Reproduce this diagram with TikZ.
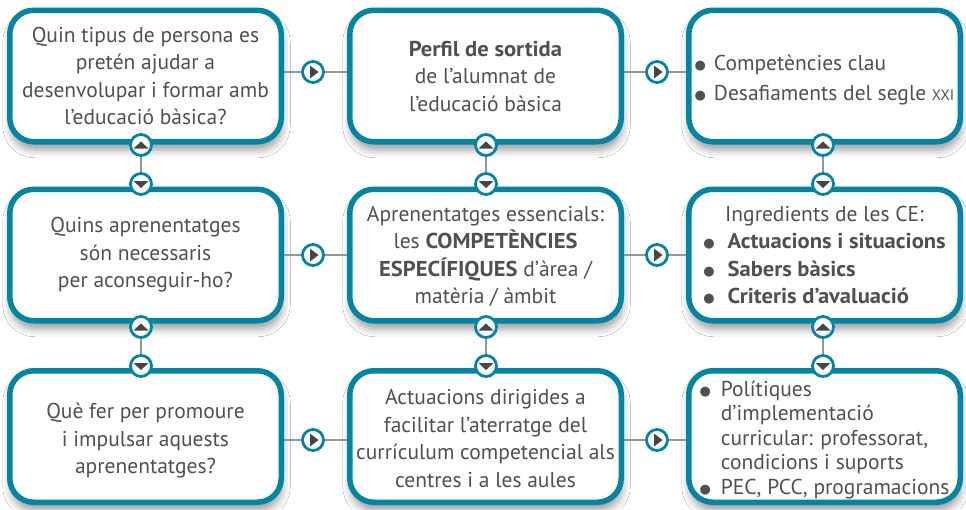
\documentclass[tikz,border=0pt]{standalone}
\usepackage{fontspec}
\setmainfont{PT Sans}[BoldFeatures={FakeStretch=1.05}]
\newfontfamily\dejavu{DejaVu Sans}
\usetikzlibrary{shadows.blur}
\definecolor{tealb}{RGB}{0,134,163}
\definecolor{txt}{RGB}{80,80,80}
\definecolor{tri}{RGB}{70,70,70}
\definecolor{lnk}{RGB}{150,150,150}
\newcommand{\bl}{\raisebox{1.2pt}{\dejavu\fontsize{13}{13}\selectfont ●}}
% shift content down by #1 while keeping the node centred on the shifted box
\newcommand{\sh}[2]{\raisebox{0pt}[\dimexpr\height+#1\relax][\dimexpr\depth-#1\relax]{#2}}
\newcommand{\dn}[2]{\sh{#1}{\begin{tabular}{@{}c@{}}#2\end{tabular}}}
\begin{document}
\begin{tikzpicture}[x=1pt,y=-1pt,
  box/.style={draw=tealb, line width=5.5pt, rounded corners=24pt, fill=white,
    minimum width=271.5pt, minimum height=131.5pt, inner sep=0pt, text=txt,
    font=\fontsize{21.5}{27.5}\selectfont, align=center,
    blur shadow={shadow xshift=1pt, shadow yshift=-8pt, shadow blur radius=8pt, shadow opacity=40}},
  rc/.style={circle, draw=tealb, line width=2.8pt, fill=white, minimum size=21pt, inner sep=0pt},
  rcright/.style={rc, path picture={\fill[tri]
    ([shift={(-3,-6.5)}]path picture bounding box.center) --
    ([shift={(-3,6.5)}]path picture bounding box.center) --
    ([shift={(5.5,0)}]path picture bounding box.center) -- cycle;}},
  rcup/.style={rc, path picture={\fill[tri]
    ([shift={(-7.5,3.5)}]path picture bounding box.center) --
    ([shift={(7.5,3.5)}]path picture bounding box.center) --
    ([shift={(0,-3.5)}]path picture bounding box.center) -- cycle;}},
  rcdown/.style={rc, path picture={\fill[tri]
    ([shift={(-7.5,-3)}]path picture bounding box.center) --
    ([shift={(7.5,-3)}]path picture bounding box.center) --
    ([shift={(0,4)}]path picture bounding box.center) -- cycle;}},
  link/.style={draw=lnk, line width=1.2pt}
]
\useasboundingbox (0,0) rectangle (966,509);
\fill[white] (0,0) rectangle (966,509);

% boxes
\node[box] (b11) at (145.5,76) {\dn{2pt}{Quin tipus de persona es\\pretén ajudar a\\desenvolupar i formar amb\\l’educació bàsica?}};
\node[box] (b12) at (485.5,76) {\textbf{Perfil de sortida}\\de l’alumnat de\\l’educació bàsica};
\node[box] (b13) at (824.5,76) {\sh{4pt}{\begin{tabular}{@{}l@{\hspace{8pt}}l@{}}\bl & Competències clau\\[2pt] \bl & Desafiaments del segle {\fontsize{15}{15}\selectfont XXI}\end{tabular}}};

\node[box] (b21) at (145.5,255) {Quins aprenentatges\\són necessaris\\per aconseguir-ho?};
\node[box] (b22) at (485.5,255) {\dn{2pt}{Aprenentatges essencials:\\les \textbf{COMPETÈNCIES}\\\textbf{ESPECÍFIQUES} d’àrea /\\matèria / àmbit}};
\node[box] (b23) at (824.5,255) {\sh{2pt}{\begin{tabular}{@{}l@{\hspace{13pt}}l@{}}\multicolumn{2}{c}{Ingredients de les CE:}\\ \bl & \textbf{Actuacions i situacions}\\ \bl & \textbf{Sabers bàsics}\\ \bl & \textbf{Criteris d’avaluació}\end{tabular}}};

\node[box] (b31) at (145.5,436.5) {\dn{4pt}{Què fer per promoure\\i impulsar aquests\\aprenentatges?}};
\node[box] (b32) at (485.5,436.5) {\dn{4pt}{Actuacions dirigides a\\facilitar l’aterratge del\\currículum competencial als\\centres i a les aules}};
\node[box, font=\fontsize{21.5}{24.5}\selectfont] (b33) at (824.5,436.5) {\sh{4pt}{\begin{tabular}{@{}l@{\hspace{10pt}}l@{}}\bl & Polítiques\\ & d’implementació\\ & curricular: professorat,\\ & condicions i suports\\ \bl & PEC, PCC, programacions\end{tabular}}};

% horizontal connector circles
\node[rcright] (h11) at (313,72) {};
\node[rcright] (h12) at (657,72) {};
\node[rcright] (h21) at (313,255) {};
\node[rcright] (h22) at (657,255) {};
\node[rcright] (h31) at (313,440) {};
\node[rcright] (h32) at (657,440) {};

\draw[link] (b11.east |- h11) -- (h11) -- (b12.west |- h11);
\draw[link] (b12.east |- h12) -- (h12) -- (b13.west |- h12);
\draw[link] (b21.east |- h21) -- (h21) -- (b22.west |- h21);
\draw[link] (b22.east |- h22) -- (h22) -- (b23.west |- h22);
\draw[link] (b31.east |- h31) -- (h31) -- (b32.west |- h31);
\draw[link] (b32.east |- h32) -- (h32) -- (b33.west |- h32);

% vertical connectors
\foreach \c/\x in {1/141,2/486,3/823}{
  \node[rcup] (u1\c) at (\x,145) {};
  \node[rcdown] (d1\c) at (\x,184) {};
  \node[rcup] (u2\c) at (\x,327) {};
  \node[rcdown] (d2\c) at (\x,366) {};
  \draw[link] (u1\c) -- (d1\c);
  \draw[link] (u2\c) -- (d2\c);
}
\end{tikzpicture}
\end{document}
